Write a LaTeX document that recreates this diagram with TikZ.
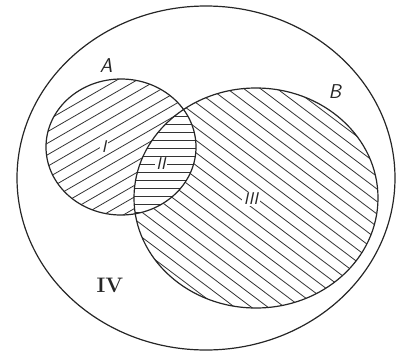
\documentclass[tikz,border=0pt]{standalone}
\begin{document}
\begin{tikzpicture}[x=1pt,y=-1pt,
  outline/.style={line width=1.2pt,draw=black!85},
  hatch/.style={line width=0.8pt,draw=black!80},
  setlbl/.style={font=\fontsize{20}{24}\selectfont\sffamily\itshape,text=black!85},
  reglbl/.style={font=\fontsize{17}{20}\selectfont\sffamily\itshape,fill=white,inner sep=1.5pt,text=black!85},
  outlbl/.style={font=\fontsize{21}{24}\selectfont\bfseries,text=black!85}]
\useasboundingbox (0,0) rectangle (400,360);
\def\Apath{(121,147) ellipse [x radius=75, y radius=68]}
\def\Bpath{(256,198) ellipse [x radius=122, y radius=110]}
% region III hatching (whole B)
\begin{scope}
  \clip \Bpath;
  \begin{scope}[rotate around={-37:(256,198)}]
    \foreach \d in {-180,-170,...,180}
      \draw[hatch] (56,198+\d) -- (456,198+\d);
  \end{scope}
\end{scope}
% region I hatching (whole A)
\begin{scope}
  \clip \Apath;
  \fill[white] \Apath;
  \begin{scope}[rotate around={30:(121,147)}]
    \foreach \d in {-120,-110,...,120}
      \draw[hatch] (-30,147+\d) -- (280,147+\d);
  \end{scope}
\end{scope}
% region II hatching (A and B)
\begin{scope}
  \clip \Apath;
  \clip \Bpath;
  \fill[white] (0,0) rectangle (400,360);
  \foreach \y in {84,92,...,220}
    \draw[hatch] (120,\y) -- (210,\y);
\end{scope}
% outlines
\draw[outline] (206,178) ellipse [x radius=189, y radius=172];
\draw[outline] \Apath;
\draw[outline] \Bpath;
% labels
\node[setlbl] (la) at (106,66) {A};
\node[setlbl] (lb) at (335,92) {B};
\node[reglbl] (l1) at (104,147) {I};
\node[reglbl] (l2) at (161,164) {II};
\node[reglbl] (l3) at (251,199) {III};
\node[outlbl] (l4) at (110,285) {IV};
\end{tikzpicture}
\end{document}
